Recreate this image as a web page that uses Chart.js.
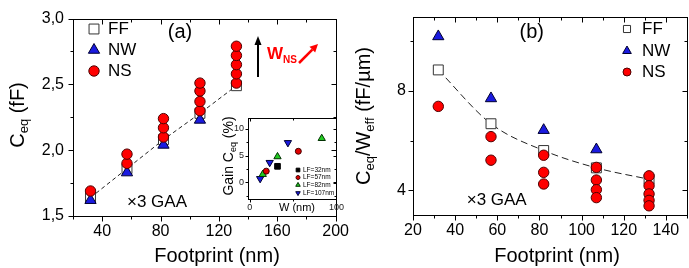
<!DOCTYPE html>
<html>
<head>
<meta charset="utf-8">
<script src="https://cdn.jsdelivr.net/npm/chart.js@4.4.1/dist/chart.umd.min.js"></script>
<style>
  body { margin: 0; background: #fff; overflow: hidden; width: 689px; height: 268px; position: relative; }
  .box { position: absolute; }
</style>
</head>
<body>
<div class="box" style="left:0;top:0;width:355px;height:268px"><canvas id="chartA"></canvas></div>
<div class="box" style="left:355px;top:0;width:340px;height:268px"><canvas id="chartB"></canvas></div>
<div class="box" style="left:218px;top:108px;width:130px;height:108px"><canvas id="inset"></canvas></div>
<script>
// data
const footprint = [32, 57, 82, 107, 132];
const ceqFF = [1.64, 1.86, 2.08, 2.28, 2.49];
const ceqNW = [1.62, 1.83, 2.04, 2.23];
const ceqNS = [[1.69], [1.90, 1.97], [2.10, 2.17, 2.24], [2.30, 2.37, 2.45, 2.51], [2.51, 2.58, 2.65, 2.72, 2.79]];
const normFF = [8.85, 6.68, 5.60, 4.90, 4.44];
const normNW = [10.2, 7.70, 6.42, 5.64];
const normNS = [[7.38], [6.16, 5.21], [5.41, 4.72, 4.25], [4.92, 4.41, 4.02, 3.70], [4.58, 4.18, 3.85, 3.59, 3.37]];
const insetLabels = ['LF=32nm', 'LF=57nm', 'LF=82nm', 'LF=107nm'];
const insetW = [[32], [19, 56], [15, 32, 83], [12, 23, 44]];
const insetGain = [[3.0], [2.1, 5.8], [1.5, 4.8, 8.2], [0.7, 3.7, 7.4]];
const xTicksA = [40, 80, 120, 160, 200];
const yTicksA = [1.5, 2.0, 2.5, 3.0];
const xTicksB = [20, 40, 60, 80, 100, 120, 140];
const yTicksB = [4, 8];
const xTicksIn = [0, 100];
const yTicksIn = [0, 5, 10];

const FONT = "'Liberation Sans', Arial, sans-serif";
Chart.defaults.font.family = FONT;
Chart.defaults.color = '#000';

const pts = (xs, ys) => ys.map((y, i) => ({x: xs[i], y: y}));
const ptsGroup = (xs, groups) => groups.flatMap((g, i) => g.map(y => ({x: xs[i], y: y})));

const RED = '#ff0000', BLUE = '#1a1ae0', GREEN = '#22cc22';
const sq = {pointStyle: 'rect', pointRadius: 7, pointBackgroundColor: '#fff', pointBorderColor: '#333', pointBorderWidth: 1};
const tri = {pointStyle: 'triangle', pointRadius: 6.5, pointBackgroundColor: BLUE, pointBorderColor: '#000030', pointBorderWidth: 1};
const circ = {pointStyle: 'circle', pointRadius: 5.2, pointBackgroundColor: RED, pointBorderColor: '#500000', pointBorderWidth: 1};

function marker(ctx, style, x, y, r, fill, stroke, flip) {
  ctx.save();
  ctx.beginPath();
  if (style === 'rect') {
    const s = r * Math.SQRT1_2;
    ctx.rect(x - s, y - s, 2 * s, 2 * s);
  } else if (style === 'triangle') {
    const d = flip ? -1 : 1;
    ctx.moveTo(x, y - d * r);
    ctx.lineTo(x + 0.866 * r, y + d * r / 2);
    ctx.lineTo(x - 0.866 * r, y + d * r / 2);
    ctx.closePath();
  } else {
    ctx.arc(x, y, r, 0, Math.PI * 2);
  }
  ctx.fillStyle = fill;
  ctx.fill();
  ctx.strokeStyle = stroke;
  ctx.lineWidth = 1;
  ctx.stroke();
  ctx.restore();
}

// parts: [text, size, baseline shift, bold]
function richText(ctx, x, y, parts, color, rotate, center) {
  ctx.save();
  ctx.translate(x, y);
  if (rotate) ctx.rotate(-Math.PI / 2);
  const font = p => (p[3] ? 'bold ' : '') + p[1] + 'px ' + FONT;
  let total = 0;
  parts.forEach(p => { ctx.font = font(p); total += ctx.measureText(p[0]).width; });
  let xx = center ? -total / 2 : 0;
  ctx.fillStyle = color || '#000';
  ctx.textAlign = 'left';
  ctx.textBaseline = 'alphabetic';
  parts.forEach(p => {
    ctx.font = font(p);
    ctx.fillText(p[0], xx, p[2]);
    xx += ctx.measureText(p[0]).width;
  });
  ctx.restore();
}

function text(ctx, str, x, y, size, align) {
  ctx.save();
  ctx.font = size + 'px ' + FONT;
  ctx.fillStyle = '#000';
  ctx.textAlign = align || 'left';
  ctx.textBaseline = 'middle';
  ctx.fillText(str, x, y);
  ctx.restore();
}

function arrow(ctx, x1, y1, x2, y2, color, w, hl, hw) {
  const a = Math.atan2(y2 - y1, x2 - x1);
  const bx = x2 - hl * Math.cos(a), by = y2 - hl * Math.sin(a);
  ctx.save();
  ctx.strokeStyle = color;
  ctx.fillStyle = color;
  ctx.lineWidth = w;
  ctx.beginPath();
  ctx.moveTo(x1, y1);
  ctx.lineTo(bx, by);
  ctx.stroke();
  ctx.beginPath();
  ctx.moveTo(x2, y2);
  ctx.lineTo(bx + hw / 2 * Math.sin(a), by - hw / 2 * Math.cos(a));
  ctx.lineTo(bx - hw / 2 * Math.sin(a), by + hw / 2 * Math.cos(a));
  ctx.closePath();
  ctx.fill();
  ctx.restore();
}

// box around the plot, ticks out on bottom/left and in on top/right
const framePlugin = {
  id: 'frame',
  afterDraw(chart, args, o) {
    const {ctx, chartArea: a} = chart;
    const x = chart.scales.x, y = chart.scales.y;
    ctx.save();
    ctx.strokeStyle = '#000';
    ctx.lineWidth = 1;
    ctx.strokeRect(Math.round(a.left) + 0.5, Math.round(a.top) + 0.5, Math.round(a.right - a.left), Math.round(a.bottom - a.top));
    const run = (scale, minor, major, horiz) => {
      const start = Math.ceil(scale.min / minor - 1e-9) * minor;
      for (let v = start; v <= scale.max + 1e-9; v += minor) {
        const isMajor = Math.abs(v / major - Math.round(v / major)) < 1e-6;
        const len = isMajor ? o.major : o.minor;
        const p = Math.round(scale.getPixelForValue(v)) + 0.5;
        ctx.beginPath();
        if (horiz) {
          const b = Math.round(a.bottom) + 0.5, t = Math.round(a.top) + 0.5;
          ctx.moveTo(p, b); ctx.lineTo(p, b + len);
          ctx.moveTo(p, t); ctx.lineTo(p, t + len);
        } else {
          const l = Math.round(a.left) + 0.5, r = Math.round(a.right) + 0.5;
          ctx.moveTo(l - len, p); ctx.lineTo(l, p);
          ctx.moveTo(r, p); ctx.lineTo(r - len, p);
        }
        ctx.stroke();
      }
    };
    run(x, o.xMinor, o.xMajor, true);
    run(y, o.yMinor, o.yMajor, false);
    ctx.restore();
  }
};

const fixedTicks = list => s => { s.ticks = list.map(v => ({value: v})); };
const commaFmt = v => v.toFixed(1).replace('.', ',');

const decorA = {
  id: 'decorA',
  afterDraw(chart) {
    const ctx = chart.ctx;
    marker(ctx, 'rect', 94, 29, 7, '#fff', '#333');
    marker(ctx, 'triangle', 94, 50, 6.5, BLUE, '#000030');
    marker(ctx, 'circle', 94, 71, 5.2, RED, '#500000');
    text(ctx, 'FF', 108, 29, 17);
    text(ctx, 'NW', 108, 50, 17);
    text(ctx, 'NS', 108, 71, 17);
    text(ctx, '(a)', 180, 32, 20, 'center');
    text(ctx, '\u00d73 GAA', 127, 202, 17);
    arrow(ctx, 258, 77, 258, 36, '#000', 2, 9, 7);
    richText(ctx, 267, 59, [['W', 17, 0, true], ['NS', 10, 4, true]], RED);
    arrow(ctx, 299, 63, 318, 44, RED, 2.5, 8, 8);
    richText(ctx, 16.5, 115, [['C', 20, 7], ['eq', 13, 11], [' (fF)', 20, 7]], '#000', true, true);
    text(ctx, 'Footprint (nm)', 217, 256, 20, 'center');
  }
};

const decorB = {
  id: 'decorB',
  afterDraw(chart) {
    const ctx = chart.ctx;
    marker(ctx, 'rect', 272, 29, 5, '#fff', '#333');
    marker(ctx, 'triangle', 272, 51, 5, BLUE, '#000030');
    marker(ctx, 'circle', 272, 72, 4, RED, '#500000');
    text(ctx, 'FF', 287, 29, 17);
    text(ctx, 'NW', 287, 51, 17);
    text(ctx, 'NS', 287, 72, 17);
    text(ctx, '(b)', 176.7, 32, 20, 'center');
    text(ctx, '\u00d73 GAA', 111.7, 200, 17);
    richText(ctx, 7.5, 116, [['C', 20, 7], ['eq', 13, 11], ['/W', 20, 7], ['eff', 13, 11], [' (fF/\u00b5m)', 20, 7]], '#000', true, true);
    text(ctx, 'Footprint (nm)', 202, 256, 20, 'center');
  }
};

const insetStyles = [
  {style: 'rect', fill: '#000', stroke: '#000', r: 4, flip: false},
  {style: 'circle', fill: '#e00000', stroke: '#400000', r: 3, flip: false},
  {style: 'triangle', fill: GREEN, stroke: '#003000', r: 4.2, flip: false},
  {style: 'triangle', fill: BLUE, stroke: '#000030', r: 4.2, flip: true}
];

const decorIn = {
  id: 'decorIn',
  afterDraw(chart) {
    const ctx = chart.ctx;
    richText(ctx, 10, 48, [['Gain C', 14, 5], ['eq', 9, 8], [' (%)', 14, 5]], '#000', true, true);
    text(ctx, 'W (nm)', 79, 100, 11, 'center');
    insetLabels.forEach((lab, i) => {
      const s = insetStyles[i];
      const yy = [62, 69.5, 77, 85][i];
      marker(ctx, s.style, 80, yy, s.style === 'circle' ? 2 : 2.6, s.fill, s.stroke, s.flip);
      text(ctx, lab, 85, yy, 6.5);
    });
  }
};

const common = {
  responsive: true,
  maintainAspectRatio: false,
  animation: false,
  events: [],
  devicePixelRatio: 1
};

new Chart(document.getElementById('chartA'), {
  type: 'scatter',
  data: {
    datasets: [
      Object.assign({label: 'FF', data: pts(footprint, ceqFF), showLine: true, borderColor: '#222', borderWidth: 1, borderDash: [4, 3], order: 3}, sq),
      Object.assign({label: 'NW', data: pts(footprint, ceqNW), order: 2}, tri),
      Object.assign({label: 'NS', data: ptsGroup(footprint, ceqNS), order: 1}, circ)
    ]
  },
  options: Object.assign({}, common, {
    layout: {padding: {top: 13, right: 5, left: 0, bottom: 0}},
    plugins: {
      legend: {display: false},
      tooltip: {enabled: false},
      frame: {xMinor: 20, xMajor: 40, yMinor: 0.25, yMajor: 0.5, major: 5, minor: 3}
    },
    scales: {
      x: {
        type: 'linear', min: 20, max: 200,
        afterBuildTicks: fixedTicks(xTicksA),
        afterFit: s => { s.height = 52; },
        grid: {display: false, drawTicks: false},
        border: {display: false},
        ticks: {font: {size: 16}, padding: 6, maxRotation: 0, autoSkip: false}
      },
      y: {
        min: 1.5, max: 3.0,
        afterBuildTicks: fixedTicks(yTicksA),
        afterFit: s => { s.width = 73; },
        grid: {display: false, drawTicks: false},
        border: {display: false},
        ticks: {font: {size: 16}, padding: 9, callback: commaFmt}
      }
    }
  }),
  plugins: [framePlugin, decorA]
});

new Chart(document.getElementById('chartB'), {
  type: 'scatter',
  data: {
    datasets: [
      Object.assign({label: 'FF', data: pts(footprint, normFF), showLine: true, cubicInterpolationMode: 'monotone', borderColor: '#222', borderWidth: 1, borderDash: [7, 4], order: 3}, sq),
      Object.assign({label: 'NW', data: pts(footprint, normNW), order: 2}, tri),
      Object.assign({label: 'NS', data: ptsGroup(footprint, normNS), order: 1}, circ)
    ]
  },
  options: Object.assign({}, common, {
    layout: {padding: {top: 13, right: 5, left: 0, bottom: 0}},
    plugins: {
      legend: {display: false},
      tooltip: {enabled: false},
      frame: {xMinor: 10, xMajor: 20, yMinor: 2, yMajor: 4, major: 5, minor: 3}
    },
    scales: {
      x: {
        type: 'linear', min: 20, max: 150,
        afterBuildTicks: fixedTicks(xTicksB),
        afterFit: s => { s.height = 53; },
        grid: {display: false, drawTicks: false},
        border: {display: false},
        ticks: {font: {size: 16}, padding: 6, maxRotation: 0, autoSkip: false}
      },
      y: {
        min: 3, max: 11,
        afterBuildTicks: fixedTicks(yTicksB),
        afterFit: s => { s.width = 58; },
        grid: {display: false, drawTicks: false},
        border: {display: false},
        ticks: {font: {size: 16}, padding: 7}
      }
    }
  }),
  plugins: [framePlugin, decorB]
});

new Chart(document.getElementById('inset'), {
  type: 'scatter',
  data: {
    datasets: insetLabels.map((lab, i) => ({
      label: lab,
      data: pts(insetW[i], insetGain[i]),
      pointStyle: insetStyles[i].style,
      pointRadius: insetStyles[i].r,
      pointRotation: insetStyles[i].flip ? 180 : 0,
      pointBackgroundColor: insetStyles[i].fill,
      pointBorderColor: insetStyles[i].stroke,
      pointBorderWidth: 1
    }))
  },
  options: Object.assign({}, common, {
    layout: {padding: {top: 10, right: 5, left: 0, bottom: 0}},
    plugins: {
      legend: {display: false},
      tooltip: {enabled: false},
      frame: {xMinor: 50, xMajor: 100, yMinor: 2.5, yMajor: 5, major: 3, minor: 2}
    },
    scales: {
      x: {
        type: 'linear', min: -2, max: 100,
        afterBuildTicks: fixedTicks(xTicksIn),
        afterFit: s => { s.height = 17.5; },
        grid: {display: false, drawTicks: false},
        border: {display: false},
        ticks: {font: {size: 9}, padding: 4, maxRotation: 0, autoSkip: false, color: '#222'}
      },
      y: {
        min: -3, max: 12,
        afterBuildTicks: fixedTicks(yTicksIn),
        afterFit: s => { s.width = 30; },
        grid: {display: false, drawTicks: false},
        border: {display: false},
        ticks: {font: {size: 9}, padding: 4, color: '#222'}
      }
    }
  }),
  plugins: [framePlugin, decorIn]
});
</script>
</body>
</html>
